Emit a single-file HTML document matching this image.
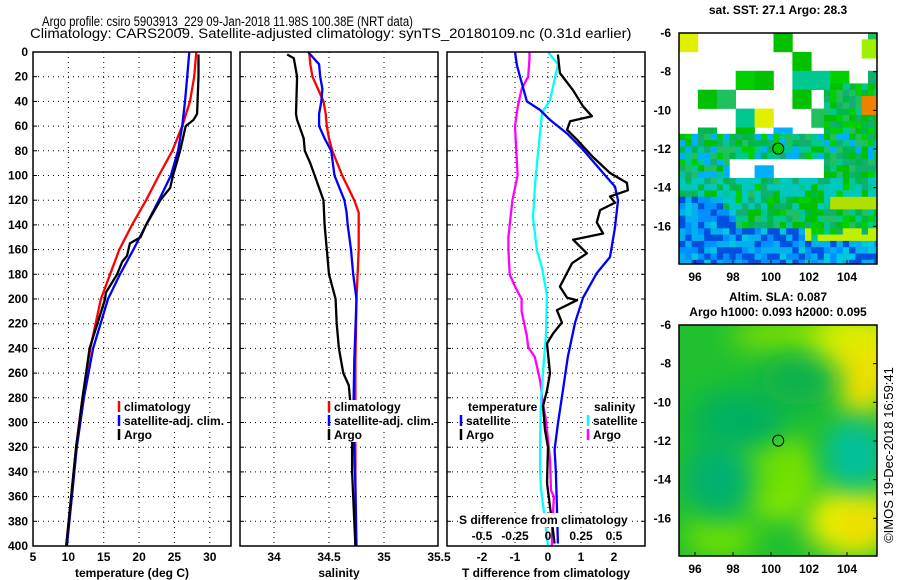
<!DOCTYPE html>
<html><head><meta charset="utf-8"><style>
body{margin:0;background:#fff;}
svg{display:block;font-family:"Liberation Sans",sans-serif;}
.t{font-size:12px;font-weight:bold;fill:#000;}
</style></head><body>
<svg id="c" width="900" height="580" viewBox="0 0 900 580" xmlns="http://www.w3.org/2000/svg">
<defs><filter id="bl" x="-50%" y="-50%" width="200%" height="200%"><feGaussianBlur stdDeviation="14"/></filter>
<clipPath id="m2c"><rect x="679" y="325" width="198" height="231"/></clipPath></defs>
<text id="ti1" x="0" y="0" font-size="14">Argo profile: csiro 5903913_229 09-Jan-2018 11.98S 100.38E (NRT data)</text>
<text id="ti2" x="0" y="0" font-size="14">Climatology: CARS2009. Satellite-adjusted climatology: synTS_20180109.nc (0.31d earlier)</text>
<g id="g"></g>
<text class="t" x="778" y="14" text-anchor="middle">sat. SST: 27.1 Argo: 28.3</text>
<text class="t" x="778" y="301" text-anchor="middle">Altim. SLA: 0.087</text>
<text class="t" x="778" y="316" text-anchor="middle">Argo h1000: 0.093 h2000: 0.095</text>
<text x="893" y="455" font-size="13" text-anchor="middle" transform="rotate(-90 893 455)">©IMOS 19-Dec-2018 16:59:41</text>
</svg>
<script>
// ---- data ----
const tempDepths=[0,20,40,60,80,100,120,140,160,180,200,240,280,320,360,400];
const tempClim=[28.1,27.8,27.2,26.1,24.7,22.8,21,19,17.2,15.9,14.6,13.1,12,11.1,10.4,9.7];
const tempSat=[27.1,26.8,26.5,26.1,25.5,24.5,22.8,21,19.2,17.3,15.6,13.5,12.2,11.2,10.5,9.8];
const argoTDepths=[2,20,50,55,60,80,100,110,120,130,140,150,155,165,170,180,195,200,240,280,320,400];
const argoT=[28.4,28.4,28.2,27.7,26.6,25.8,24.8,24.4,23,22,21,20.2,18.7,18.3,17.6,16.9,15.3,15.2,13,12,11.1,9.7];
const salDepths=[0,10,20,30,40,50,60,70,80,100,120,130,140,160,180,200,250,300,350,400];
const salClim=[34.32,34.33,34.35,34.4,34.45,34.47,34.48,34.5,34.53,34.62,34.73,34.77,34.77,34.77,34.76,34.75,34.74,34.74,34.74,34.74];
const salSat=[34.31,34.41,34.42,34.44,34.43,34.41,34.41,34.46,34.52,34.55,34.64,34.66,34.67,34.7,34.72,34.75,34.73,34.72,34.74,34.75];
const argoSDepths=[2,5,20,50,55,70,80,90,100,120,140,160,180,200,220,240,260,270,300,340,400];
const argoS=[34.12,34.18,34.21,34.2,34.21,34.27,34.28,34.33,34.37,34.45,34.46,34.48,34.5,34.56,34.57,34.59,34.63,34.68,34.71,34.71,34.74];
const dTSatDepths=[0,11,20,40,47,55,66,79,98,109,120,142,166,179,199,219,247,274,301,322,341,368,398];
const dTSat=[-1.0,-0.94,-0.85,-0.64,-0.24,0.06,0.58,1.06,1.67,2.03,2.12,2.03,1.88,1.48,1.06,0.82,0.6,0.45,0.3,0.2,0.24,0.27,0.3];
const dTArgoDepths=[2,17,31,44,52,56,63,71,85,98,106,112,117,122,128,138,147,152,163,171,190,199,201,209,219,228,236,260,274,287,306,320,349,368,398];
const dTArgo=[0.3,0.36,0.76,1.06,1.33,0.67,0.58,0.88,1.36,1.88,2.39,2.42,1.88,2.03,1.58,1.48,1.67,0.76,1.18,0.73,0.36,0.58,0.88,0.27,0.42,0.15,-0.03,0.06,-0.03,-0.15,-0.09,0,-0.03,0.06,0.2];
const dSSatDepths=[0,10,39,49,65,90,107,134,161,175,197,229,259,282,314,338,354,379,400];
const dSSat=[0,0.076,0.015,-0.045,-0.06,-0.083,-0.098,-0.114,-0.083,-0.045,-0.008,-0.015,-0.038,-0.053,-0.06,-0.06,-0.053,-0.023,0];
const dSArgoDepths=[0,5,20,30,45,60,80,100,120,140,150,160,180,190,200,210,230,239,247,266,284,298,314,330,355,360,389,400];
const dSArgo=[-0.14,-0.14,-0.15,-0.2,-0.23,-0.25,-0.24,-0.23,-0.27,-0.29,-0.3,-0.3,-0.29,-0.25,-0.2,-0.2,-0.16,-0.15,-0.1,-0.06,-0.04,-0.015,0,0.015,0.023,0.045,0.03,0.03];
const depthTicks=[0,20,40,60,80,100,120,140,160,180,200,220,240,260,280,300,320,340,360,380,400];
const tempTicks=[5,10,15,20,25,30];
const salTicks=[34,34.5,35,35.5];
const dTTicks=[-2,-1,0,1,2];
const dSTicks=[-0.5,-0.25,0,0.25,0.5];
const dSTickLabels=["-0.5","-0.25","0","0.25","0.5"];
const lonTicks=[96,98,100,102,104];
const latTicks=[-6,-8,-10,-12,-14,-16];

// titles: condense horizontally only
[['ti1',42,26,371],['ti2',30,38,602]].forEach(a=>{const t=document.getElementById(a[0]);const w=t.getComputedTextLength();
  t.setAttribute('transform','translate('+a[1]+','+a[2]+') scale('+(a[3]/w)+',1)');});

const NS='http://www.w3.org/2000/svg';
const G=document.getElementById('g');
function mk(tag,at,parent){const e=document.createElementNS(NS,tag);for(const k in at)e.setAttribute(k,at[k]);(parent||G).appendChild(e);return e;}
const top0=52,bot=546;
const yD=d=>top0+d*(bot-top0)/400;
const P1={x0:33,x1:231}, P2={x0:240,x1:438}, P3={x0:447,x1:645};
const xT=v=>33+(v-5)*(198/28);
const xS=v=>274+(v-34)*110;
const xdT=v=>548+v*33;
const xdS=v=>548+v*132;

function panel(P,name){
  const g=mk('g',{});
  
  
  depthTicks.forEach(d=>{if(d>0&&d<400){const l=mk('line',{x1:P.x0,x2:P.x1,y1:yD(d),y2:yD(d),stroke:'#000','stroke-width':1,'stroke-dasharray':'1,4'},g);
    }
    const tk=mk('line',{x1:P.x0,x2:P.x0+4,y1:yD(d),y2:yD(d),stroke:'#000'},g);
    const tk2=mk('line',{x1:P.x1-4,x2:P.x1,y1:yD(d),y2:yD(d),stroke:'#000'},g);
  });
  return g;
}
function vgrid(P,g,xs){xs.forEach(x=>{if(x>P.x0+1&&x<P.x1-1){const l=mk('line',{x1:x,x2:x,y1:top0,y2:bot,stroke:'#000','stroke-dasharray':'1,4'},g);
  }});}
function frame(P,g){const r=mk('rect',{x:P.x0,y:top0,width:P.x1-P.x0,height:bot-top0,fill:'none',stroke:'#000','stroke-width':1.5},g);
  }
function line(vals,depths,xf,color,name,g){
  const pts=vals.map((v,i)=>xf(v).toFixed(1)+','+yD(depths[i]).toFixed(1)).join(' ');
  const p=mk('polyline',{points:pts,fill:'none',stroke:color,'stroke-width':2.3,'stroke-linejoin':'round'},g);
  }
function text(x,y,s,anchor,name,g,cls){const t=mk('text',{x:x,y:y,'text-anchor':anchor||'start',class:cls||'t'},g);t.textContent=s;
  return t;}
function legend(x,y,color,label,g){const l=mk('line',{x1:x,x2:x,y1:y-10,y2:y+1,stroke:color,'stroke-width':2.5},g);
  
  const t=text(x+5,y,label,'start','legend-label',g);
  const bb=t.getBBox();const r=mk('rect',{x:bb.x,y:bb.y,width:bb.width,height:bb.height,fill:'#fff'},g);g.insertBefore(r,t);
  }

depthTicks.forEach(d=>text(28,yD(d)+4,String(d),'end','depth-tick-label',G));

let g1=panel(P1,'temperature-panel');
vgrid(P1,g1,tempTicks.map(xT));
line(tempClim,tempDepths,xT,'#f00','temp-climatology-line',g1);
line(tempSat,tempDepths,xT,'#00f','temp-satellite-line',g1);
line(argoT,argoTDepths,xT,'#000','temp-argo-line',g1);
frame(P1,g1);
tempTicks.forEach(v=>text(xT(v),561,String(v),'middle','temp-tick-label',g1));
text(132,577,'temperature (deg C)','middle','temp-axis-title',g1);
legend(119,411,'#f00','climatology',g1);legend(119,425,'#00f','satellite-adj. clim.',g1);legend(119,439,'#000','Argo',g1);

let g2=panel(P2,'salinity-panel');
vgrid(P2,g2,salTicks.map(xS));
line(salClim,salDepths,xS,'#f00','sal-climatology-line',g2);
line(salSat,salDepths,xS,'#00f','sal-satellite-line',g2);
line(argoS,argoSDepths,xS,'#000','sal-argo-line',g2);
frame(P2,g2);
salTicks.forEach(v=>text(xS(v),561,String(v),'middle','sal-tick-label',g2));
text(339,577,'salinity','middle','sal-axis-title',g2);
legend(329,411,'#f00','climatology',g2);legend(329,425,'#00f','satellite-adj. clim.',g2);legend(329,439,'#000','Argo',g2);

let g3=panel(P3,'difference-panel');
vgrid(P3,g3,dTTicks.map(xdT));
line(dSArgo,dSArgoDepths,xdS,'#f0f','sdiff-argo-line',g3);
line(dSSat,dSSatDepths,xdS,'#0ff','sdiff-satellite-line',g3);
line(dTSat,dTSatDepths,xdT,'#00f','tdiff-satellite-line',g3);
line(dTArgo,dTArgoDepths,xdT,'#000','tdiff-argo-line',g3);
frame(P3,g3);
dTTicks.forEach(v=>text(xdT(v),561,String(v),'middle','tdiff-tick-label',g3));
text(546,577,'T difference from climatology','middle','tdiff-axis-title',g3);
(function(){const t=text(459,524,'S difference from climatology','start','sdiff-axis-title',g3);const bb=t.getBBox();
 const r=mk('rect',{x:bb.x,y:bb.y,width:bb.width,height:bb.height,fill:'#fff'},g3);g3.insertBefore(r,t);})();
dSTicks.forEach((v,i)=>text(xdS(v),540,dSTickLabels[i],'middle','sdiff-tick-label',g3));
(function(){const t=text(468,411,'temperature','start','legend-heading',g3);const bb=t.getBBox();
 const r=mk('rect',{x:bb.x,y:bb.y,width:bb.width,height:bb.height,fill:'#fff'},g3);g3.insertBefore(r,t);
 const t2=text(594,411,'salinity','start','legend-heading',g3);const b2=t2.getBBox();
 const r2=mk('rect',{x:b2.x,y:b2.y,width:b2.width,height:b2.height,fill:'#fff'},g3);g3.insertBefore(r2,t2);})();
legend(461,425,'#00f','satellite',g3);legend(461,439,'#000','Argo',g3);
legend(588,425,'#0ff','satellite',g3);legend(588,439,'#f0f','Argo',g3);

// maps
const M={x0:679,x1:877,lon0:95.2,lon1:105.5};
const xL=l=>695+(l-96)*19;
function mapAxes(y0,y1,g,nm){
  const yLat=la=>y0+(-6-la)*((y1-y0)/11.95);
  const r=mk('rect',{x:M.x0,y:y0,width:M.x1-M.x0,height:y1-y0,fill:'none',stroke:'#000','stroke-width':1.5},g);
  
  lonTicks.forEach(l=>{text(xL(l),y1+17,String(l),'middle',nm+'-lon-label',g);
    const t=mk('line',{x1:xL(l),x2:xL(l),y1:y1,y2:y1-4,stroke:'#000'},g);});
  latTicks.forEach(la=>{text(M.x0-8,yLat(la)+4,String(la),'end',nm+'-lat-label',g);
    const t=mk('line',{x1:M.x1,x2:M.x1-4,y1:yLat(la),y2:yLat(la),stroke:'#000'},g);});
  const c=mk('circle',{cx:xL(100.38),cy:yLat(-11.98),r:5.5,fill:(nm==='sst-map'?'#00d000':'none'),stroke:'#000'},g);
  
}
const gm1=mk('g',{});
function h(i,j){let n=i*374761393+j*668265263;n=(n^(n>>13))*1274126177;n=n^(n>>16);return (n>>>0)/4294967295;}
const greens=['#00c000','#00b848','#00d000','#20c060','#00c890','#10b070'];
const blues=['#0090ff','#00b0f0','#0050e0','#00c8e0','#0070f0','#00d0c0','#0030c0'];
const cs=6.3;
for(let j=0;j*cs<231;j++)for(let i=0;i*cs<198;i++){
  const lat=-6-(j*cs)/19.3, lon=95.2+(i*cs)/19;
  const r=h(i,j); const bi=Math.floor(i/3), bj=Math.floor(j/3), rb=h(bi+50,bj+70); let col=null;
  if(lat>-11){
    if(lon>102.5&&lat<-8.6) { if(r<0.7) col=greens[Math.floor(r*60)%6]; }
    else if(rb<0.22) col=(rb<0.05?'#00b0ff':(rb<0.08?'#e0f000':greens[Math.floor(rb*97)%6]));
    if(lon>104.8&&lat>-7.2&&lat<-6.3) col='#a0f000';
    if(lon>104.8&&lat<-9.2&&lat>-10.2) col='#f08000';}
  else if(lat>-13.5){
    if(lat<-12.4&&lon>97.8&&lon<101.8) col=(rb<0.15?'#00b0ff':null);
    else if(lon>101.8&&lon<102.8&&lat<-12.3) col=null;
    else if(r<0.85) col=(r<0.1?'#00b0ff':greens[Math.floor(r*37)%6]);}
  else if(lat>-15){ col=r<0.25?'#00c8c0':greens[Math.floor(r*41)%6]; if(lon<97.5&&lat<-14.3) col=blues[Math.floor(r*7)%7]; if(lon>103&&lat<-14.2&&r<0.45) col='#b0e000';}
  else { col=(lon>101.5&&lat>-16.5)? (r<0.35?'#c0f000':greens[Math.floor(r*29)%6]) : blues[Math.floor(r*7)%7]; if(lat>-15.8&&lon>98&&r<0.6) col=greens[Math.floor(r*23)%6];}
  if(col){mk('rect',{x:M.x0+i*cs,y:33+j*cs,width:Math.min(cs,M.x1-(M.x0+i*cs))+0.3,height:Math.min(cs,264-(33+j*cs))+0.3,fill:col},gm1);}
}
mapAxes(33,264,gm1,'sst-map');
const gm2=mk('g',{});
const inner=mk('g',{'clip-path':'url(#m2c)'},gm2);
mk('rect',{x:679,y:325,width:198,height:231,fill:'#20c030'},inner);
const blobs=[[800,335,70,18,'#80e000'],[860,350,50,40,'#d8f000'],[862,380,25,40,'#f0e000'],[850,520,45,35,'#e8f000'],[860,525,22,20,'#f0d800'],[778,485,28,30,'#a8f000'],[770,470,45,40,'#70e000'],[720,535,35,25,'#70e000'],[855,455,30,35,'#00c0a0'],[740,420,50,30,'#00b060'],[720,480,35,40,'#00b070'],[800,380,40,25,'#10b050']];
blobs.forEach(b=>{mk('ellipse',{cx:b[0],cy:b[1],rx:b[2],ry:b[3],fill:b[4],filter:'url(#bl)'},inner);});
mapAxes(325,556,gm2,'sla-map');
</script>
</body></html>
